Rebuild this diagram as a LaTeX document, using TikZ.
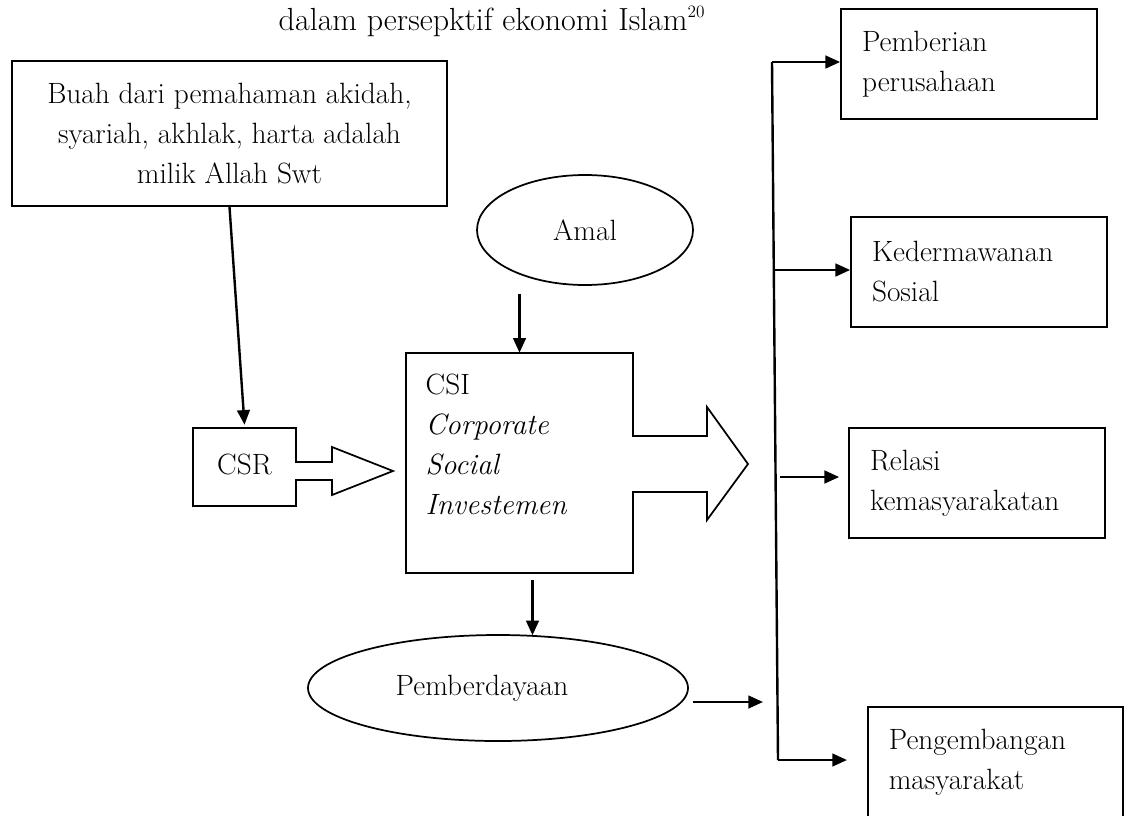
\documentclass[tikz,border=0pt]{standalone}
\usetikzlibrary{arrows.meta,shapes.geometric,calc}

\begin{document}
\begin{tikzpicture}[x=0.75pt,y=-0.75pt,
        txt/.style={font=\fontsize{22}{30}\selectfont},
        box/.style={txt, draw, line width=1.3pt, align=center},
        rbox/.style={txt, draw, line width=1.3pt, align=left, inner xsep=15.75pt,
            text width=160.5pt, minimum height=82.5pt},
        oval/.style={txt, draw, line width=1.3pt, ellipse, inner sep=0pt},
        conn/.style={line width=1.8pt, -{Triangle[length=11pt,width=9.5pt]}}]
    \useasboundingbox (0,0) rectangle (1124,815);
    \clip (0,0) rectangle (1124,815);

    \node[font=\fontsize{24}{30}\selectfont, anchor=base] (title) at (492,30)
        {dalam persepktif ekonomi Islam\textsuperscript{\fontsize{13}{13}\selectfont 20}};

    \node[box, minimum width=326.25pt, minimum height=108.75pt] (buah) at (229.5,133.5)
        {Buah dari pemahaman akidah,\\ syariah, akhlak, harta adalah\\ milik Allah Swt};
    \node[oval, minimum width=162pt, minimum height=82.5pt] (amal) at (585,230) {Amal};
    \node[oval, minimum width=285pt, minimum height=79.5pt] (pem) at (498,688) {Pemberdayaan\hspace*{24pt}};

    % CSR and CSI with their block arrows
    \draw[line width=1.3pt] (193,428) -- (296,428) -- (296,462) -- (332,462) -- (332,447)
        -- (393,471) -- (332,495) -- (332,480) -- (296,480) -- (296,506) -- (193,506) -- cycle;
    \node[txt, minimum width=77.25pt, minimum height=58.5pt] (csr) at (244.5,464) {CSR};
    \draw[line width=1.3pt] (406,353) -- (633,353) -- (633,436) -- (707,436) -- (707,407)
        -- (748,464) -- (707,520) -- (707,492) -- (633,492) -- (633,573) -- (406,573) -- cycle;
    \node[minimum width=170.25pt, minimum height=165pt, inner sep=0pt] (csi) at (519.5,463) {};
    \node[txt, anchor=north west, align=left] (csilbl) at (421,369)
        {CSI\\ \textit{Corporate}\\ \textit{Social}\\ \textit{Investemen}};

    % right column
    \node[rbox] (beri) at (969,64) {Pemberian\\ perusahaan};
    \node[rbox] (derma) at (979,272) {Kedermawanan\\ Sosial};
    \node[rbox] (relasi) at (977,483) {Relasi\\ kemasyarakatan};
    \node[rbox, text width=160pt] (kembang) at (995.5,762) {Pengembangan\\ masyarakat};

    \coordinate (ttop) at (772,62);
    \coordinate (tbot) at (778,760);
    \coordinate (tmid) at (774,270);
    \coordinate (trel) at (780,477);
    \coordinate (pemend) at (763,702);
    \coordinate (amalb) at ($(amal.south)+(0,8)$);

    \draw[conn] (buah.south) -- (csr.north);
    \draw[conn] (amalb -| csi.north) -- (csi.north);
    \draw[conn] ($(csi.south)+(13,7)$) -- ++(0,55);
    \draw[conn] ($(pem.east)+(4,14)$) -- (pemend);
    \draw[line width=1.8pt] (ttop) -- (tbot);
    \draw[conn] (ttop) -- (ttop -| beri.west);
    \draw[conn] (tmid) -- (tmid -| derma.west);
    \draw[conn, shorten >=6.75pt] (trel) -- (trel -| relasi.west);
    \draw[conn, shorten >=15pt] (tbot) -- (tbot -| kembang.west);
\end{tikzpicture}
\end{document}
